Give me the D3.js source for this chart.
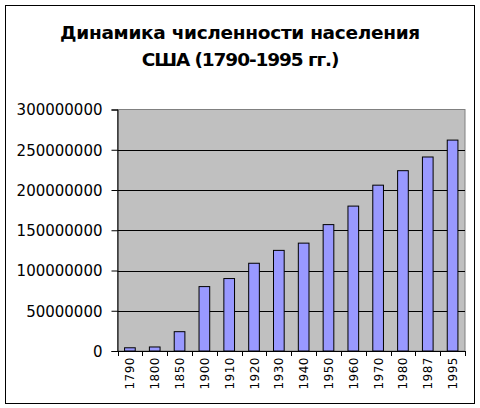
<!DOCTYPE html>
<html><head><meta charset="utf-8">
<script src="https://cdn.jsdelivr.net/npm/d3@7"></script>
<style>body{margin:0;background:#fff}svg{display:block}</style>
</head><body>
<script>
const titleLines = ["Динамика численности населения", "США (1790-1995 гг.)"];
const years = ["1790","1800","1850","1900","1910","1920","1930","1940","1950","1960","1970","1980","1987","1995"];
const population = [4000000,5000000,24000000,80000000,90000000,109000000,125000000,134000000,157000000,180000000,206000000,224000000,241000000,262000000];
const yTicks = [0,50000000,100000000,150000000,200000000,250000000,300000000];

const W=480,H=408;
const svg=d3.select("body").append("svg").attr("width",W).attr("height",H);
svg.append("rect").attr("x",5.5).attr("y",5.5).attr("width",469).attr("height",398)
  .attr("fill","#fff").attr("stroke","#000").attr("stroke-width",1);

const m={left:117.5,right:465,top:109.5,bottom:351};
const x=d3.scaleBand().domain(years).range([m.left,m.right]).paddingInner(0.57).paddingOuter(0.285);
const y=d3.scaleLinear().domain([0,300000000]).range([m.bottom,m.top]);

svg.append("rect").attr("x",m.left).attr("y",m.top).attr("width",m.right-m.left).attr("height",m.bottom-m.top)
  .attr("fill","#c0c0c0").attr("stroke","#808080").attr("stroke-width",1);

svg.append("g").selectAll("line").data(yTicks.slice(1,-1)).join("line")
  .attr("x1",m.left).attr("x2",m.right).attr("y1",d=>Math.round(y(d))+0.5).attr("y2",d=>Math.round(y(d))+0.5)
  .attr("stroke","#000").attr("stroke-width",1);

svg.append("g").selectAll("rect").data(years).join("rect")
  .attr("x",d=>x(d)).attr("width",x.bandwidth())
  .attr("y",(d,i)=>y(population[i])).attr("height",(d,i)=>y(0)-y(population[i]))
  .attr("fill","#9999ff").attr("stroke","#000").attr("stroke-width",1);

const yAxis=svg.append("g").attr("transform",`translate(${m.left},0)`)
  .call(d3.axisLeft(y).tickValues(yTicks).tickFormat(d3.format("d")).tickSize(6).tickPadding(9));
yAxis.select(".domain").attr("stroke","#000");
yAxis.selectAll("text").attr("font-family","DejaVu Sans").attr("font-size",15).attr("fill","#000").attr("dy","0.36em");

// x axis: ticks between categories
const xg=svg.append("g");
xg.append("line").attr("x1",m.left).attr("x2",m.right).attr("y1",m.bottom+0.5).attr("y2",m.bottom+0.5).attr("stroke","#000");
const step=x.step();
const bounds=d3.range(years.length+1).map(i=>m.left+i*step);
xg.selectAll("line.t").data(bounds).join("line").attr("class","t")
  .attr("x1",d=>Math.round(d)+0.5).attr("x2",d=>Math.round(d)+0.5).attr("y1",m.bottom).attr("y2",m.bottom+5).attr("stroke","#000");
xg.selectAll("text").data(years).join("text")
  .attr("transform",d=>`translate(${x(d)+x.bandwidth()/2+4.5},${m.bottom+6}) rotate(-90)`)
  .attr("text-anchor","end").attr("font-family","DejaVu Sans").attr("font-size",12).attr("letter-spacing",0.5)
  .text(d=>d);

svg.append("g").selectAll("text").data(titleLines).join("text")
  .attr("x",240).attr("y",(d,i)=>39+i*27).attr("text-anchor","middle")
  .attr("font-family","DejaVu Sans").attr("font-weight","bold").attr("font-size",18.5)
  .attr("letter-spacing",(d,i)=>i===0?-0.3:-1.1)
  .text(d=>d);
</script>
</body></html>
